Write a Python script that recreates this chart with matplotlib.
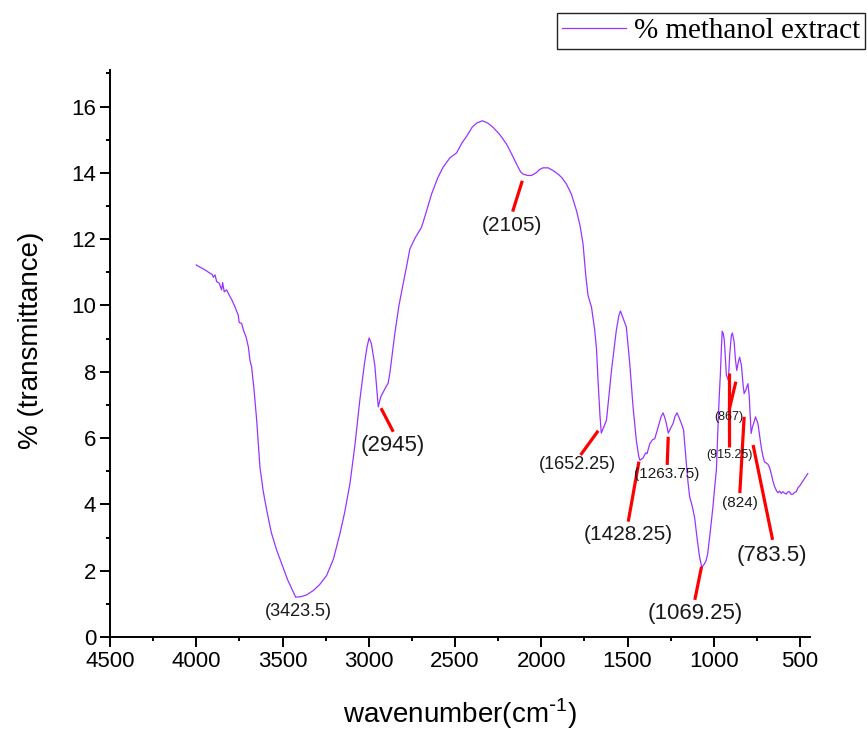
import matplotlib
matplotlib.use("Agg")
import matplotlib.pyplot as plt
from matplotlib.ticker import MultipleLocator
from matplotlib.font_manager import FontProperties

# FT-IR spectrum of the methanol extract (wavenumber in cm-1, % transmittance)
wavenumber = [
    4000, 3994, 3949, 3920, 3907, 3901, 3891, 3882, 3867, 3853, 3847, 3838,
    3824, 3809, 3795, 3776, 3757, 3751, 3737, 3727, 3712, 3698, 3689, 3679,
    3665, 3650, 3631, 3612, 3592, 3565, 3534, 3497, 3470, 3440, 3423.5, 3390,
    3360, 3322, 3285, 3245, 3205, 3167, 3140, 3109, 3080, 3052, 3025, 3010,
    2998, 2985, 2965, 2952, 2945, 2930, 2917, 2900, 2888, 2878, 2865, 2849,
    2825, 2801, 2780, 2762, 2730, 2694, 2665, 2636, 2600, 2569, 2530, 2491,
    2460, 2433, 2400, 2375, 2341, 2310, 2279, 2240, 2202, 2170, 2144, 2120,
    2105, 2080, 2057, 2030, 2010, 1990, 1960, 1932, 1900, 1880, 1854, 1825,
    1796, 1775, 1758, 1742, 1729, 1709, 1690, 1680, 1671, 1660, 1652.25, 1640,
    1622, 1593, 1565, 1550, 1541, 1525, 1507, 1487, 1468, 1449, 1435, 1428.25,
    1410, 1395, 1387, 1371, 1355, 1342, 1317, 1305, 1294, 1283, 1275, 1263.75,
    1250, 1236, 1225, 1213, 1200, 1185, 1175, 1165, 1159, 1150, 1140, 1125,
    1111, 1095, 1082, 1069.25, 1055, 1045, 1035, 1020, 1005, 995, 985, 976,
    968, 962, 956, 951, 945, 939, 933, 927, 915.25, 908, 898, 892, 882, 875,
    867, 860, 850, 840, 830, 824, 815, 802, 795, 788, 783.5, 775, 769, 758,
    744, 735, 725, 715, 706, 696, 686, 676, 667, 657, 647, 637, 628, 618,
    609, 599, 590, 580, 570, 561, 551, 541, 532, 522, 512, 503, 493, 484,
    474, 465, 455,
]
transmittance = [
    11.22, 11.20, 11.07, 10.97, 10.93, 10.85, 10.92, 10.72, 10.67, 10.47, 10.69, 10.41,
    10.47, 10.31, 10.18, 9.96, 9.71, 9.48, 9.46, 9.26, 9.06, 8.75, 8.35, 8.14,
    7.45, 6.55, 5.13, 4.40, 3.83, 3.15, 2.62, 2.10, 1.72, 1.38, 1.20, 1.22,
    1.27, 1.40, 1.58, 1.85, 2.35, 3.12, 3.75, 4.63, 5.80, 7.14, 8.25, 8.75,
    9.02, 8.85, 8.20, 7.40, 6.94, 7.25, 7.38, 7.55, 7.65, 7.95, 8.50, 9.15,
    10.00, 10.65, 11.20, 11.70, 12.05, 12.36, 12.85, 13.36, 13.85, 14.17, 14.45, 14.60,
    14.90, 15.10, 15.38, 15.50, 15.57, 15.50, 15.37, 15.15, 14.87, 14.55, 14.27, 14.03,
    13.96, 13.92, 13.92, 14.00, 14.10, 14.15, 14.15, 14.07, 13.95, 13.85, 13.66, 13.35,
    12.86, 12.40, 11.86, 10.90, 10.30, 9.95, 9.25, 8.70, 7.74, 6.70, 6.15, 6.30,
    6.54, 8.04, 9.25, 9.70, 9.83, 9.60, 9.35, 8.24, 6.94, 5.93, 5.45, 5.33,
    5.40, 5.55, 5.53, 5.83, 5.95, 5.98, 6.44, 6.65, 6.76, 6.60, 6.44, 6.15,
    6.30, 6.44, 6.65, 6.76, 6.60, 6.40, 6.24, 5.60, 5.23, 4.70, 4.23, 3.95,
    3.60, 2.90, 2.40, 2.10, 2.20, 2.30, 2.52, 3.20, 3.92, 4.50, 5.03, 6.30,
    7.30, 7.90, 8.70, 9.22, 9.15, 8.95, 8.40, 7.90, 7.74, 8.50, 9.10, 9.17,
    8.90, 8.40, 8.04, 8.24, 8.44, 8.20, 7.60, 7.34, 7.44, 7.64, 7.30, 6.60,
    6.14, 6.35, 6.44, 6.64, 6.44, 6.10, 5.73, 5.45, 5.28, 5.25, 5.21, 5.10,
    4.93, 4.70, 4.53, 4.42, 4.35, 4.40, 4.33, 4.38, 4.34, 4.31, 4.38, 4.38,
    4.30, 4.31, 4.36, 4.38, 4.50, 4.55, 4.63, 4.70, 4.78, 4.85, 4.93,
]

# Band labels
band_labels = ["(3423.5)", "(2945)", "(2105)", "(1652.25)", "(1428.25)",
               "(1263.75)", "(1069.25)", "(915.25)", "(867)", "(824)", "(783.5)"]

# Leader line (x0, y0, x1, y1) or None, text centre (x, y), font size
band_layout = [
    (None, (3410, 0.78), 13),
    ((2929, 6.90, 2858, 6.19), (2862, 5.77), 16),
    ((2110, 13.76, 2166, 12.83), (2170, 12.42), 15),
    ((1670, 6.22, 1772, 5.49), (1788, 5.19), 13),
    ((1434, 5.29, 1496, 3.48), (1498, 3.08), 15),
    ((1264, 6.04, 1270, 5.19), (1272, 4.92), 11),
    ((1071, 2.12, 1110, 1.12), (1110, 0.72), 16),
    ((912, 7.96, 912, 5.73), (910, 5.50), 9),
    ((872, 7.70, 911, 6.85), (911, 6.65), 9),
    ((824, 6.64, 849, 4.34), (849, 4.05), 11),
    ((772, 5.79, 659, 2.93), (663, 2.47), 16),
]

sans = "Liberation Sans"
plt.rcParams["font.family"] = [sans, "DejaVu Sans"]

fig = plt.figure(figsize=(8.67, 7.31), dpi=100)
ax = fig.add_axes([0.1269, 0.1286, 0.8074, 0.7756])

line, = ax.plot(wavenumber, transmittance, color="#9933ff", lw=0.9,
                label="% methanol extract")

for text, (seg, (tx, ty), fs) in zip(band_labels, band_layout):
    if seg is not None:
        ax.plot([seg[0], seg[2]], [seg[1], seg[3]], color="#ff0000", lw=2.3,
                solid_capstyle="butt")
    ax.text(tx, ty, text, ha="center", va="center", fontsize=fs, color="#1a1a1a")

ax.set_xlim(4500, 442)
ax.set_ylim(0, 17.1)
ax.xaxis.set_major_locator(MultipleLocator(500))
ax.xaxis.set_minor_locator(MultipleLocator(250))
ax.yaxis.set_major_locator(MultipleLocator(2))
ax.yaxis.set_minor_locator(MultipleLocator(1))

for side in ("top", "right"):
    ax.spines[side].set_visible(False)
for side in ("left", "bottom"):
    ax.spines[side].set_linewidth(1.4)

ax.tick_params(which="major", direction="out", length=7, width=1.4,
               labelsize=16, pad=3)
ax.tick_params(which="minor", direction="out", length=3, width=1.4)

ax.set_xlabel(r"wavenumber(cm$^{\mathregular{\text{-}1}}$)", fontsize=20)
ax.set_ylabel("% (transmittance)", fontsize=20)
ax.xaxis.set_label_coords(0.5, -0.105)
ax.yaxis.set_label_coords(-0.094, 0.524)

leg = ax.legend(handles=[line], loc="upper right",
                bbox_to_anchor=(865 / 867, 1 - 12.5 / 731),
                bbox_transform=fig.transFigure,
                prop=FontProperties(family="Liberation Serif", size=21),
                frameon=True, fancybox=False, edgecolor="#222222",
                framealpha=1, handlelength=2.2, handletextpad=0.25,
                borderpad=0.18, borderaxespad=0)
leg.get_frame().set_linewidth(1.0)

fig.savefig("out.png", dpi=100)
